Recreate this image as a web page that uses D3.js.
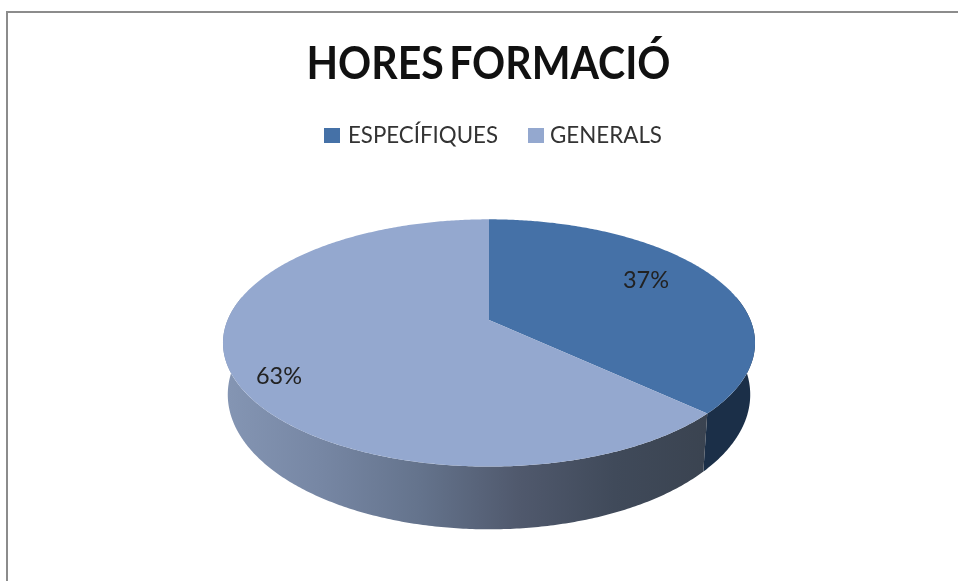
<!DOCTYPE html>
<html>
<head>
<meta charset="utf-8">
<script src="https://cdn.jsdelivr.net/npm/d3@7"></script>
<style>
  html, body { margin: 0; padding: 0; background: #fff; }
  svg { display: block; filter: blur(0.45px); }
  text { font-family: Lato, sans-serif; fill: #111; }
</style>
</head>
<body>
<svg id="chart" width="958" height="581"></svg>
<script>
const title = "HORES FORMACIÓ";
const categories = ["ESPECÍFIQUES", "GENERALS"];
const values = [37, 63];
const topColors = ["#4571a7", "#94a8cf"];
const sideColors = [
    ["#1b2f48", "#1b2f48"],
    ["#8495b3", "#7686a3", "#64738c", "#50596d", "#404a5a", "#3a4350"]
];

const width = 958;
const height = 581;

const svg = d3.select("#chart");

// pie is tilted in perspective: near side is bigger, apex sits above ellipse centre
const cx = 489;
const apexY = 320;
const rx = 261.4;
const ry = 60;
const tilt = -0.1855;
// bottom rim relative to the top rim
const rimScaleX = 0.982;
const rimScaleY = 1.09;
const rimShift = 20.8;

const project = (angle, r = 1) => {
    const X = Math.sin(angle) * r;
    const Y = -Math.cos(angle) * r;
    const w = 1 + tilt * Y;
    return [cx + rx * X / w, (ry * Y + apexY) / w];
};

const projectBottom = (angle) => {
    const p = project(angle);
    return [cx + (p[0] - cx) * rimScaleX, p[1] * rimScaleY + rimShift];
};

const arcSteps = (a0, a1) => {
    const n = Math.max(2, Math.ceil((a1 - a0) / 0.01));
    return d3.range(n + 1).map(i => a0 + (a1 - a0) * i / n);
};

const line = d3.line();

const pie = d3.pie().sort(null).value(d => d);
const slices = pie(values);

// frame: only top and left edges show in the picture
svg.append("path")
    .attr("d", `M7,${height}V12H${width}`)
    .attr("fill", "none")
    .attr("stroke", "#8c8c8c")
    .attr("stroke-width", 2);

svg.append("text")
    .attr("x", 488.5)
    .attr("y", 79)
    .attr("text-anchor", "middle")
    .attr("font-size", 45)
    .attr("font-weight", 700)
    .attr("word-spacing", -5)
    .attr("textLength", 364)
    .attr("lengthAdjust", "spacingAndGlyphs")
    .text(title);

// legend
const legendSwatchX = [324, 528];
const legendTextX = [348, 550];
const legendTextW = [150, 112];
const legend = svg.selectAll("g.legend")
    .data(categories)
    .enter()
    .append("g")
    .attr("class", "legend");
legend.append("rect")
    .attr("x", (d, i) => legendSwatchX[i])
    .attr("y", 128)
    .attr("width", 16)
    .attr("height", 15)
    .attr("fill", (d, i) => topColors[i]);
legend.append("text")
    .attr("x", (d, i) => legendTextX[i])
    .attr("y", 143)
    .attr("font-size", 23)
    .attr("textLength", (d, i) => legendTextW[i])
    .attr("lengthAdjust", "spacingAndGlyphs")
    .style("fill", "#333")
    .text(d => d);

// side gradients run left to right across the pie
const defs = svg.append("defs");
sideColors.forEach((stops, i) => {
    const grad = defs.append("linearGradient")
        .attr("id", `side-${i}`)
        .attr("gradientUnits", "userSpaceOnUse")
        .attr("x1", cx - rx)
        .attr("x2", cx + rx * 0.85)
        .attr("y1", 0)
        .attr("y2", 0);
    stops.forEach((c, j) => {
        grad.append("stop")
            .attr("offset", j / (stops.length - 1))
            .attr("stop-color", c);
    });
});

// only the front of the rim is visible
const frontStart = Math.PI / 2 - 0.2;
const frontEnd = Math.PI * 3 / 2 + 0.2;

svg.append("g")
    .selectAll("path")
    .data(slices)
    .enter()
    .append("path")
    .attr("fill", (d, i) => `url(#side-${i})`)
    .attr("d", d => {
        const steps = arcSteps(Math.max(d.startAngle, frontStart), Math.min(d.endAngle, frontEnd));
        const pts = steps.map(a => project(a)).concat(steps.slice().reverse().map(a => projectBottom(a)));
        return line(pts) + "Z";
    });

svg.append("g")
    .selectAll("path")
    .data(slices)
    .enter()
    .append("path")
    .attr("fill", (d, i) => topColors[i])
    .attr("d", d => {
        const pts = [[cx, apexY]].concat(arcSteps(d.startAngle, d.endAngle).map(a => project(a)));
        return line(pts) + "Z";
    });

// data labels
const labelX = [623, 256];
const labelY = [288, 384];
svg.selectAll("text.pct")
    .data(values)
    .enter()
    .append("text")
    .attr("class", "pct")
    .attr("x", (d, i) => labelX[i])
    .attr("y", (d, i) => labelY[i])
    .attr("font-size", 24)
    .attr("textLength", 46)
    .attr("lengthAdjust", "spacingAndGlyphs")
    .style("fill", "#222")
    .text(d => d + "%");
</script>
</body>
</html>
